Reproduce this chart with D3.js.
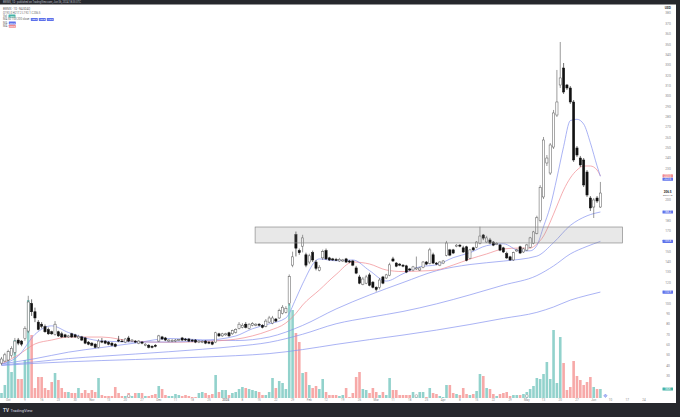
<!DOCTYPE html>
<html>
<head>
<meta charset="utf-8">
<script src="https://cdn.jsdelivr.net/npm/d3@7"></script>
<style>
  html, body { margin: 0; padding: 0; background: #fff; }
  svg { display: block; font-family: Roboto, "Liberation Sans", sans-serif; }
</style>
</head>
<body>
<svg id="chart" width="680" height="417"></svg>
<script>
// daily candles, one per trading day (index 0 .. 179)
const opens = [42.3,44.3,45.3,49.6,52.6,64.6,63.6,65.9,73.3,99.9,
  91.9,81.9,79.9,77.6,74.6,72.6,69.9,72.6,70.6,69.6,
  67.6,70.6,69.6,66.6,67.6,66.6,62.6,61.6,60.6,57.6,
  63.6,63.6,62.6,61.6,60.6,64.6,63.6,62.6,66.6,63.6,
  63.6,61.6,62.6,59.6,59.6,58.6,59.6,63.6,67.6,66.6,
  63.6,63.6,63.6,64.1,66.6,65.6,65.6,64.6,64.6,62.6,
  62.6,63.6,62.6,62.6,62.6,70.6,68.6,69.6,71.6,70.6,
  71.9,75.9,76.9,79.9,75.9,78.9,78.9,79.9,78.9,77.9,
  81.9,80.9,84.9,85.9,90.3,91.3,99.9,136.9,166.3,150.9,
  155.2,146.9,139.9,148.9,139.9,131.9,143.9,150.9,143.9,142.9,
  142.4,140.9,140.9,142.9,140.9,140.9,134.2,125.5,118.5,119.5,
  127.5,120.5,115.5,115.5,125.5,124.5,127.2,142.9,138.9,137.9,
  136.9,136.2,133.2,132.2,133.2,132.2,134.9,139.9,138.6,146.9,
  138.9,136.9,138.9,146.3,151.6,151.6,155.2,156.2,153.6,154.6,
  143.6,153.6,154.2,158,166,159.2,161.2,159.2,156.7,156.4,
  153.6,147.9,144.9,141.9,150.6,154.6,149.6,151.4,154.2,158,
  167.6,180.1,202.7,235.5,225.8,250.9,281.8,310.8,327.2,310.8,
  307.9,294.4,250.0,240.3,238.4,226.8,201.7,193.0,201.7,193.0];

const highs = [48.3,52.3,55.3,58.6,66.6,66.6,64.6,77.9,107.3,103.9,
  95.9,83.9,81.9,79.6,76.6,73.6,82.9,73.6,72.6,70.6,
  69.6,71.6,70.6,69.6,68.6,67.6,63.6,62.6,61.6,65.6,
  66.6,64.6,63.6,62.6,61.6,68.6,65.6,66.6,68.6,65.6,
  64.6,64.6,63.6,61.6,60.6,59.6,60.6,69.6,68.6,67.6,
  65.6,65.6,65.6,65.6,67.6,66.6,66.6,65.6,65.6,64.6,
  64.6,64.6,63.6,63.6,72.6,71.6,71.6,71.6,72.6,74.6,
  75.9,81.9,80.9,81.9,80.9,81.9,80.9,80.9,79.9,84.9,
  87.9,87.9,85.9,94.9,98.3,97.3,127.9,149.9,169.3,152.9,
  166.2,148.9,147.9,150.9,141.9,136.9,151.9,152.9,144.9,143.9,
  143.9,143.9,142.9,143.9,141.9,141.9,136.2,127.5,125.5,127.5,
  129.5,121.5,116.5,124.5,126.5,128.5,139.2,144.9,139.9,138.9,
  137.9,137.2,134.2,136.2,145.2,135.2,140.9,140.9,153.6,148.9,
  139.9,140.9,141.9,160.3,152.6,152.6,157.2,157.2,155.6,155.6,
  152.6,154.6,160.2,174,167,165.2,163.2,160.2,159.2,157.4,
  154.6,149.9,145.9,149.9,152.6,155.6,153.6,157.4,164.2,170,
  184.6,214.1,260.6,243.2,254.8,286.7,325.3,352.3,332.0,311.8,
  309.8,296.3,251.9,242.3,240.3,228.7,203.6,201.7,203.6,217.2];

const lows = [40.3,43.3,44.3,47.6,50.6,59.6,58.6,63.9,71.3,87.9,
  81.9,73.9,75.9,71.6,69.6,69.6,68.9,67.6,66.6,66.6,
  66.6,66.6,66.6,65.6,63.6,60.6,59.6,58.6,56.6,56.6,
  61.6,60.6,59.6,58.6,57.6,62.6,62.6,61.6,62.6,62.6,
  61.6,60.6,60.6,58.6,56.6,56.6,57.6,62.6,64.6,63.6,
  62.6,62.6,62.6,63.6,63.6,63.6,62.6,62.6,61.6,61.6,
  61.6,60.6,60.6,59.6,61.6,67.6,67.6,68.6,67.6,69.6,
  70.9,74.9,75.9,75.9,74.9,77.9,77.9,77.9,75.9,76.9,
  80.9,79.9,81.9,84.9,89.3,90.3,97.9,134.9,145.3,146.9,
  149.2,134.9,137.9,139.9,131.9,130.9,141.9,141.9,140.9,140.9,
  140.9,139.9,139.9,138.9,138.9,135.9,128.2,118.5,117.5,118.5,
  116.5,114.5,111.5,113.5,118.5,123.5,126.2,139.9,134.9,135.9,
  134.9,129.2,131.2,131.2,132.2,131.2,133.9,136.9,137.6,137.9,
  136.9,135.9,137.9,145.3,145.6,147.6,154.2,154.2,148.6,140.6,
  142.6,150.6,153.2,157,161,158.2,157.2,155.2,156.2,150.4,
  148.6,142.9,140.9,140.9,149.6,147.6,148.6,150.4,153.2,157,
  166.6,178.1,200.7,232.6,223.9,249.0,279.9,307.9,302.1,306.0,
  292.5,236.5,241.3,231.6,212.3,202.7,189.2,182.4,196.9,192.1];

const closes = [46.3,50.3,53.3,56.6,63.6,61.6,60.6,75.9,101.3,91.9,
  85.9,74.9,77.9,72.6,70.6,70.6,79.9,68.6,67.6,67.6,
  68.6,67.6,67.6,68.1,64.6,61.6,60.6,59.6,57.6,63.6,
  62.6,61.6,60.6,59.6,58.6,63.6,63.1,65.6,63.6,64.6,
  62.6,63.6,61.6,60.6,57.6,57.6,58.6,68.6,65.6,64.6,
  64.6,64.1,64.6,65.1,64.6,64.6,63.6,63.6,62.6,63.6,
  63.1,61.6,61.6,60.6,71.6,68.6,70.6,70.6,68.6,73.6,
  74.9,79.9,78.9,76.9,79.9,80.4,79.9,78.9,76.9,82.9,
  85.9,85.9,82.9,92.9,96.3,95.3,125.9,144.9,153.3,148.9,
  163.2,136.9,145.9,141.9,133.9,134.9,149.9,142.9,141.9,141.9,
  141.4,142.4,141.9,139.9,139.9,136.9,129.2,119.5,123.5,125.5,
  117.5,115.5,113.5,122.5,119.5,127.5,137.2,140.9,135.9,136.9,
  135.9,130.2,132.2,135.2,134.2,134.2,139.9,137.9,151.6,138.9,
  137.9,139.9,140.9,158.3,146.6,148.6,156.2,155.2,149.6,141.6,
  151.6,151.6,159.2,165,163,163.2,158.2,156.2,157.7,151.4,
  149.6,143.9,141.9,148.9,151.6,148.6,152.6,156.4,163.2,169,
  182.6,212.1,257.7,240.3,252.9,283.8,294.4,317.6,304.0,307.9,
  294.4,238.4,243.2,233.6,214.3,204.6,192.1,199.8,198.8,206.5];

// volume in thousands
const volumes = [100,260,760,520,1160,380,380,760,1960,1260,
  200,420,420,200,160,320,500,360,200,120,
  120,100,100,200,100,160,100,160,120,400,
  60,40,40,40,220,100,40,40,100,40,
  100,100,100,40,40,60,80,240,180,60,
  40,40,80,60,40,60,40,20,20,100,
  120,100,60,80,460,120,160,160,60,100,
  120,180,220,200,180,160,140,120,60,60,
  120,400,200,340,300,180,1880,1760,1300,1120,
  500,520,260,200,240,180,380,120,60,60,
  60,40,60,200,20,100,420,520,180,160,
  100,200,120,60,120,60,400,160,160,60,
  60,60,60,120,20,120,120,20,200,100,
  80,40,20,260,260,100,80,60,200,80,
  60,80,140,480,440,200,180,80,40,80,
  100,120,40,60,60,60,80,120,180,240,
  400,380,480,720,380,1360,300,1220,700,160,
  220,740,440,360,260,320,420,220,180,180];

// moving averages at these candle indexes
const fastIdx = [0,5,10,15,20,30,40,50,60,70,75,80,85,88,90,95,100,105,110,115,120,125,130,135,140,145,150,155,158,160,162,164,166,168,170,172,174,176,178,179];
const ma10 = [41.5,49.2,70.1,78.3,71.9,63.7,62.7,62.7,64.0,68.5,75.5,80.2,85.9,104.6,118.9,142.9,141.1,141.9,131.6,121.5,128.6,135.3,137.2,144.1,148.9,155.7,157.5,150.6,150.7,155.8,174.1,193.4,221.1,251.3,276.4,277.7,273.1,255.0,232.7,222.6];
const ma21 = [41.5,50.2,60.8,64.6,67.5,67.5,63.2,62.4,63.2,65.4,68.6,73.7,81.1,90.3,98.4,112.9,127.9,139.9,138.0,132.2,130.7,131.2,132.2,137.0,142.8,147.7,152.5,153.4,153.4,157.3,165.0,178.5,194.0,209.4,221.0,228.7,232.6,232.6,228.7,223.0];

const slowIdx = [0,10,20,30,40,50,60,70,80,90,100,110,120,130,140,150,160,165,170,175,179];
const ma50 = [41.5,46.6,52.9,57.4,61.7,66.1,64.8,64.1,67.5,78.7,94.6,108.1,120.1,131.5,137.5,140.8,145.6,158.6,175.2,184.5,188.2];
const ma100 = [40.5,43.5,46.7,49.0,51.1,53.3,55.7,58.5,62.4,70.2,80.3,86.5,92.2,99.5,108.2,117.6,126.8,136.1,147.7,155.0,159.8];
const ma200 = [40.0,42.1,43.6,44.8,45.8,46.9,48.1,49.5,51.5,55.4,60.4,65.0,69.4,74.2,79.6,85.5,91.3,96.5,103.1,107.7,110.9];

// highlighted zone (candle index range, price range)
const zone = { from: 75.8, to: 185.6, top: 173.7, bottom: 158.3 };

// earnings / dividend markers on the time line
const earnings = [38, 124, 157];
const dividend = [180.5];

const priceTicks = d3.range(30, 390, 10);
const timeTicks = [[2,"Oct"],[7,"9"],[12,"16"],[17,"23"],[22,"30"],[27,"Nov"],[32,"13"],[37,"20"],[42,"27"],
  [47,"Dec"],[52,"11"],[57,"18"],[62,"25"],[67,"2024"],[72,"8"],[77,"15"],[82,"22"],[87,"29"],
  [92,"Feb"],[97,"12"],[102,"19"],[107,"26"],[112,"Mar"],[117,"11"],[122,"18"],[127,"25"],
  [132,"Apr"],[137,"8"],[142,"15"],[147,"22"],[152,"29"],[157,"May"],[162,"13"],[167,"20"],
  [172,"27"],[177,"Jun"],[182,"10"],[187,"17"],[192,"24"]];

const svg = d3.select("#chart");
const UP_VOL = "#92d2cc", DOWN_VOL = "#f7a9a8";
const BLUE = "#8592ef", PINK = "#f08a8f";
const FRAME = "#26282d";

const x = d3.scaleLinear().domain([0, 179]).range([1.5, 600.4]);
const y = d3.scaleLinear().domain([0, 380]).range([406.96, 13.3]);
const yVol = d3.scaleLinear().domain([0, d3.max(volumes)]).range([398, 300]);

const candles = closes.map((c, i) => ({
  i, o: opens[i], h: highs[i], l: lows[i], c, v: volumes[i], up: c >= opens[i]
}));

svg.append("rect").attr("width", 680).attr("height", 417).attr("fill", "#fff");

// volume
svg.append("g").selectAll("rect")
  .data(candles)
  .join("rect")
  .attr("x", d => x(d.i) - 1.3)
  .attr("width", 2.6)
  .attr("y", d => yVol(d.v))
  .attr("height", d => yVol(0) - yVol(d.v))
  .attr("fill", d => d.up ? UP_VOL : DOWN_VOL);

// moving averages
const maLine = (idx) => d3.line()
  .x((v, k) => x(idx[k]))
  .y(v => y(v))
  .curve(d3.curveMonotoneX);

const maSeries = [
  { idx: slowIdx, vals: ma200, color: BLUE },
  { idx: slowIdx, vals: ma100, color: BLUE },
  { idx: slowIdx, vals: ma50, color: BLUE },
  { idx: fastIdx, vals: ma21, color: PINK },
  { idx: fastIdx, vals: ma10, color: BLUE }
];
svg.append("g").selectAll("path")
  .data(maSeries)
  .join("path")
  .attr("d", s => maLine(s.idx)(s.vals))
  .attr("fill", "none")
  .attr("stroke", s => s.color)
  .attr("stroke-width", 0.7);

// candles
const cg = svg.append("g");
cg.selectAll("line")
  .data(candles)
  .join("line")
  .attr("x1", d => x(d.i)).attr("x2", d => x(d.i))
  .attr("y1", d => y(d.h)).attr("y2", d => y(d.l))
  .attr("stroke", d => d.up ? "#555" : "#111")
  .attr("stroke-width", 0.6);

cg.selectAll("rect")
  .data(candles)
  .join("rect")
  .attr("x", d => x(d.i) - 1.1)
  .attr("width", 2.2)
  .attr("y", d => y(Math.max(d.o, d.c)))
  .attr("height", d => Math.max(0.7, Math.abs(y(d.o) - y(d.c))))
  .attr("fill", d => d.up ? "#fff" : "#111")
  .attr("stroke", d => d.up ? "#555" : "#111")
  .attr("stroke-width", 0.5);

// zone box
svg.append("rect")
  .attr("x", x(zone.from))
  .attr("width", x(zone.to) - x(zone.from))
  .attr("y", y(zone.top))
  .attr("height", y(zone.bottom) - y(zone.top))
  .attr("fill", "rgba(140,140,140,0.2)")
  .attr("stroke", "#8c8c8c")
  .attr("stroke-width", 0.7);

// time markers
svg.append("g").selectAll("circle")
  .data(earnings)
  .join("circle")
  .attr("cx", d => x(d)).attr("cy", 396)
  .attr("r", 1.4)
  .attr("fill", "#fff").attr("stroke", "#888").attr("stroke-width", 0.5);
svg.append("g").selectAll("path")
  .data(dividend)
  .join("path")
  .attr("d", d => `M${x(d)},394 l1.8,1.8 l-1.8,1.8 l-1.8,-1.8 z`)
  .attr("fill", "#a9b6f5").attr("stroke", "#6a7fe8").attr("stroke-width", 0.4);

// time axis labels
svg.append("g").selectAll("text")
  .data(timeTicks)
  .join("text")
  .attr("x", d => x(d[0]))
  .attr("y", 401.2)
  .attr("text-anchor", "middle")
  .attr("font-size", 3)
  .attr("font-weight", d => d[1] === "2024" ? 700 : 400)
  .attr("fill", "#888")
  .text(d => d[1]);

// price axis: highlighted labels
const last = arr => arr[arr.length - 1];
const marks = [
  { v: last(ma21), color: PINK, text: last(ma21).toFixed(1) },
  { v: last(ma10), color: "#5e72eb", text: last(ma10).toFixed(1) },
  { v: last(ma50), color: "#5e72eb", text: last(ma50).toFixed(1) },
  { v: last(ma100), color: "#5e72eb", text: last(ma100).toFixed(1) },
  { v: last(ma200), color: "#5e72eb", text: last(ma200).toFixed(1) }
].map(m => ({ ...m, py: y(m.v) })).sort((a, b) => a.py - b.py);
for (let k = 1; k < marks.length; k++) {
  if (marks[k].py < marks[k - 1].py + 3.3) marks[k].py = marks[k - 1].py + 3.3;
}
const lastClose = last(closes);
const volMarkY = yVol(last(volumes));
const busy = marks.map(m => m.py).concat([y(lastClose), volMarkY]);

svg.append("g").selectAll("text")
  .data(priceTicks.filter(t => busy.every(b => Math.abs(y(t) - b) > 4)))
  .join("text")
  .attr("x", 668).attr("y", t => y(t))
  .attr("dy", "0.35em")
  .attr("text-anchor", "middle")
  .attr("font-size", 3.3)
  .attr("fill", "#8a8a8a")
  .text(t => t);

const mg = svg.append("g").selectAll("g").data(marks).join("g");
mg.append("rect")
  .attr("x", 662.5).attr("width", 10.5)
  .attr("y", m => m.py - 1.6).attr("height", 3.2)
  .attr("rx", 0.4)
  .attr("fill", m => m.color);
mg.append("text")
  .attr("x", 667.7).attr("y", m => m.py)
  .attr("dy", "0.35em").attr("text-anchor", "middle")
  .attr("font-size", 2.7).attr("fill", "#fff")
  .text(m => m.text);

// last price label
svg.append("text")
  .attr("x", 667.7).attr("y", y(lastClose) - 1.3)
  .attr("dy", "0.35em").attr("text-anchor", "middle")
  .attr("font-size", 3).attr("font-weight", 700).attr("fill", "#222")
  .text(lastClose.toFixed(1));
svg.append("text")
  .attr("x", 667.7).attr("y", y(lastClose) + 1.8)
  .attr("dy", "0.35em").attr("text-anchor", "middle")
  .attr("font-size", 2.4).attr("fill", "#444")
  .text("06:24:15");

// volume label
svg.append("rect")
  .attr("x", 662.5).attr("width", 10.5)
  .attr("y", volMarkY - 1.6).attr("height", 3.2)
  .attr("rx", 0.4).attr("fill", "#45b3a7");
svg.append("text")
  .attr("x", 667.7).attr("y", volMarkY)
  .attr("dy", "0.35em").attr("text-anchor", "middle")
  .attr("font-size", 2.7).attr("fill", "#fff")
  .text(last(volumes) + "K");

svg.append("text")
  .attr("x", 667.7).attr("y", 9)
  .attr("text-anchor", "middle")
  .attr("font-size", 3.2).attr("font-weight", 700).attr("fill", "#333")
  .text("USD");

// legend
const legend = svg.append("g").attr("font-size", 2.8).attr("fill", "#666");
legend.append("text").attr("x", 3).attr("y", 10.2).text("BWMX · 1D · NASDAQ");
legend.append("text").attr("x", 3).attr("y", 13.6)
  .text(`O${opens[179].toFixed(1)} H${highs[179].toFixed(1)} L${lows[179].toFixed(1)} C${lastClose.toFixed(1)}`);

const legendRows = [
  { y: 17, label: "Vol", boxes: [{ c: "#45b3a7", t: last(volumes) + "K" }] },
  { y: 20.4, label: "MA 50 100 200 close", boxes: [
    { c: "#5e72eb", t: last(ma50).toFixed(1) },
    { c: "#5e72eb", t: last(ma100).toFixed(1) },
    { c: "#5e72eb", t: last(ma200).toFixed(1) }] },
  { y: 23.8, label: "MA", boxes: [{ c: "#5e72eb", t: last(ma10).toFixed(1) }] },
  { y: 27.2, label: "MA", boxes: [{ c: PINK, t: last(ma21).toFixed(1) }] }
];
legendRows.forEach(r => {
  const t = legend.append("text").attr("x", 3).attr("y", r.y).text(r.label);
  let bx = 3 + t.node().getComputedTextLength() + 1.5;
  r.boxes.forEach(b => {
    legend.append("rect").attr("x", bx).attr("y", r.y - 2.4)
      .attr("width", 7).attr("height", 3).attr("rx", 0.4).attr("fill", b.c);
    legend.append("text").attr("x", bx + 3.5).attr("y", r.y - 0.3)
      .attr("text-anchor", "middle").attr("font-size", 2.2).attr("fill", "#fff").text(b.t);
    bx += 8;
  });
});

// frame
svg.append("rect").attr("x", 0).attr("y", 0).attr("width", 680).attr("height", 4.5).attr("fill", FRAME);
svg.append("text").attr("x", 3).attr("y", 3.2)
  .attr("font-size", 2.6).attr("fill", "#b8bcc6")
  .text("BWMX, 1D · published on TradingView.com, Jun 06, 2024 18:35 UTC");
svg.append("rect").attr("x", 676).attr("y", 0).attr("width", 4).attr("height", 417).attr("fill", FRAME);
svg.append("rect").attr("x", 0).attr("y", 403).attr("width", 680).attr("height", 14).attr("fill", FRAME);
svg.append("text").attr("x", 3).attr("y", 411.6)
  .attr("font-size", 4.6).attr("font-weight", 700).attr("fill", "#d6d9e0").text("TV");
svg.append("text").attr("x", 10.5).attr("y", 411.5)
  .attr("font-size", 4).attr("fill", "#d6d9e0").text("TradingView");
</script>
</body>
</html>
